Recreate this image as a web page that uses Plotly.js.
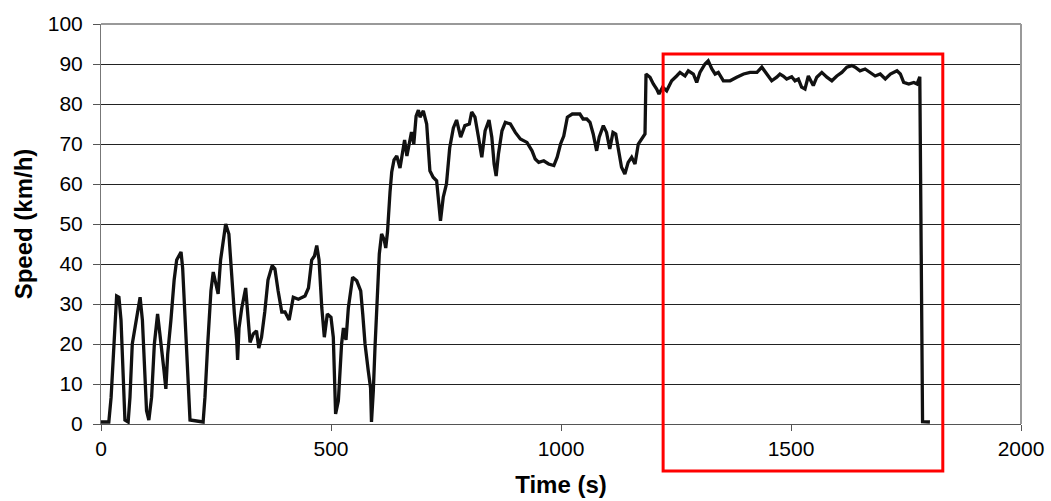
<!DOCTYPE html>
<html>
<head>
<meta charset="utf-8">
<script src="https://cdn.plot.ly/plotly-3.0.1.min.js"></script>
<style>html,body{margin:0;padding:0;background:#fff;}#chart{width:1051px;height:501px;}</style>
</head>
<body>
<div id="chart"></div>
<script>
// Time (s)
var timeS = [0,17,22,27,30,34,39,43.5,48.6,52,59,63,68,74,80,85,90,94,99,104,110,116,123,128,132,137,141,145,152,159,164.5,174,177.5,182.6,188,193.5,222,226,232,239,244,249,254.6,260,266,271,278,284,290,295,297,300,306,314.5,319,324,331,338,343,349,356,363,372,378,385,393,400,409,418,429,443.5,451,458,464,469,474,480,485.5,492,500,505,510,516,523,527,532.6,537.7,547,556,564.6,569,574,581,586,588,592,595.6,600.7,605,610,615.7,619,622.8,628.3,632,637,643,650,655,660,665,670,675,680,685,690,693.5,700.7,708,715,722,729.6,733,738,744,751,758,766,773,781.8,791,800.7,805.8,813,820.6,827.8,835,843.5,849.6,854.6,859,864,871.7,879,889.9,900.7,911.6,926,937,944,951.6,962.5,973,984.5,991.7,999,1006,1013.8,1024.6,1035.5,1041,1048,1056,1063,1070,1077.5,1083,1092,1099,1106,1113,1119,1124,1131.6,1138.8,1146,1153.6,1160.9,1168,1175.4,1182.6,1184.8,1193.5,1200.7,1208,1213,1221,1229.7,1240.6,1251.4,1258.7,1269.6,1276.8,1287.7,1295,1302,1313,1320,1328,1335,1342,1353,1367.6,1382,1397,1411,1426,1436.6,1447.5,1458,1469,1476,1483,1490.6,1501.5,1508.7,1516,1523,1530.4,1537.7,1545,1548.5,1556,1567,1578,1588.8,1599.6,1610.5,1621.4,1632.2,1639.5,1650,1661,1672,1683,1694,1705,1716,1730.4,1737.7,1745,1756,1767,1774,1780,1786,1802];
// Speed (km/h)
var speedKmh = [0.5,0.5,6.7,17.5,25,32,31.7,26,11,1,0.5,6.7,20,24,28,31.7,26,17.5,3.3,1,6.7,20,27.5,22.5,17.5,13.3,8.8,17.5,26,36,41,43,39,27.5,12.5,1,0.5,6.7,20,33.3,38,35,32.5,41,46,50,47.5,36.7,27.5,21,16,24,29,34,27.5,20.4,22.5,23.3,19,21.7,28,36,39.6,38.8,33.3,28,28,26,31.7,31.2,32,34,41,42,44.6,41,29,21.7,27.5,26.7,21.7,2.5,5.8,20,24,21,29,36.7,35.8,33.3,27.5,20,13.3,9,0.5,8.3,19,34,42.5,47.5,46,44,48,58,63,66,67,64,68,71,67,70,73,70,77,78.5,76.7,78.3,75,63.3,61.7,60.8,55.8,50.8,56.7,60,69,74,76,71.7,74.6,75,78,76.7,71.7,66.7,73.3,76,71.7,65,62,67.5,73.3,75.4,75,72.9,71.25,70.4,68.3,66.25,65.4,65.8,65,64.6,66.7,70,72,76.7,77.5,77.5,77.5,76.25,76.25,75.4,72.5,68.3,71.7,74.6,72.9,68.75,72.9,72.5,68.75,64.2,62.5,65.4,66.7,65,70,71.25,72.5,87.5,86.7,85,83.75,82.5,84.2,83.3,85.8,87,87.9,87,88.3,87.5,85.4,87.9,90,90.8,88.75,87.5,87.9,85.8,85.8,86.7,87.5,87.9,87.9,89.2,87.5,85.8,86.7,87.5,87,86.25,86.8,85.8,86.25,84.2,83.75,87,85.4,84.6,86.7,87.9,86.7,85.8,87,87.9,89.2,89.6,89.2,88.3,88.75,87.9,87,87.5,86.25,87.5,88.3,87.5,85.4,85,85.4,85,86.8,0.6,0.5];
// Highlighted window (s)
var highlightStart = 1222;
var highlightEnd = 1830;
var xTicks = [0,500,1000,1500,2000];
var yTicks = [0,10,20,30,40,50,60,70,80,90,100];

var trace = {
  x: timeS, y: speedKmh, type: 'scatter', mode: 'lines',
  line: {color: '#111111', width: 3.3},
  hoverinfo: 'skip', showlegend: false
};

var layout = {
  width: 1051, height: 501,
  margin: {l: 101, r: 30, t: 24, b: 77},
  paper_bgcolor: '#ffffff', plot_bgcolor: '#ffffff',
  font: {family: 'Liberation Sans, Arial, sans-serif', color: '#000', size: 21},
  xaxis: {
    range: [0, 2000], tickvals: xTicks, ticktext: xTicks.map(String),
    showgrid: false, zeroline: false,
    showline: true, linecolor: '#555', linewidth: 1, mirror: false,
    ticks: 'outside', ticklen: 6, tickcolor: '#555',
    tickfont: {size: 21, color: '#000'},
    title: {text: '<b>Time (s)</b>', font: {size: 24, color: '#000'}, standoff: 16},
    automargin: false
  },
  yaxis: {
    range: [0, 100], tickvals: yTicks, ticktext: yTicks.map(String),
    showgrid: true, gridcolor: '#222', gridwidth: 1, zeroline: false,
    showline: true, linecolor: '#777', linewidth: 1, mirror: false,
    ticks: 'outside', ticklen: 7, tickcolor: '#555',
    ticklabelstandoff: 6,
    tickfont: {size: 21, color: '#000'},
    title: {text: '<b>Speed (km/h)</b>', font: {size: 24, color: '#000'}, standoff: 8},
    automargin: false
  },
  shapes: [
    {type: 'line', xref: 'paper', yref: 'paper', x0: 1, x1: 1, y0: 0, y1: 1, line: {color: '#999', width: 2}},
    {type: 'line', xref: 'paper', yref: 'paper', x0: 0, x1: 1, y0: 1, y1: 1, line: {color: '#999', width: 2}},
    {type: 'rect', xref: 'x', yref: 'paper', x0: highlightStart, x1: highlightEnd, y0: -0.1175, y1: 0.925,
     line: {color: '#ff0000', width: 3}, fillcolor: 'rgba(0,0,0,0)'}
  ]
};

Plotly.newPlot('chart', [trace], layout, {displayModeBar: false, staticPlot: true});
</script>
</body>
</html>
